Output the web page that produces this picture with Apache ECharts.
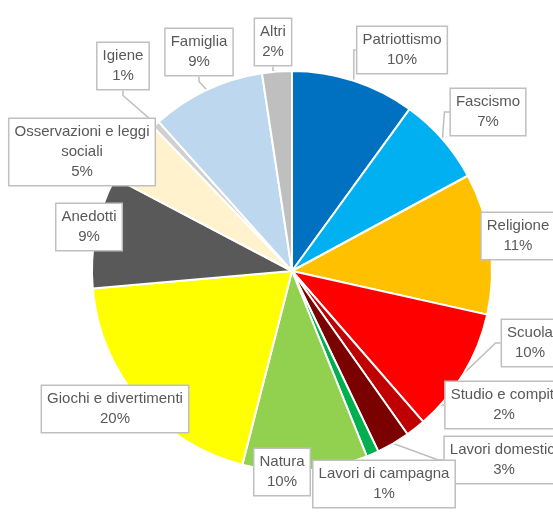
<!DOCTYPE html>
<html>
<head>
<meta charset="utf-8">
<script src="https://cdn.jsdelivr.net/npm/echarts@6/dist/echarts.min.js"></script>
<style>html,body{margin:0;padding:0;background:#fff;}#c{width:553px;height:512px;}</style>
</head>
<body>
<div id="c"></div>
<script>
// Data
const categories = ['Patriottismo','Fascismo','Religione','Scuola','Studio e compiti','Lavori domestici','Lavori di campagna','Natura','Giochi e divertimenti','Anedotti','Osservazioni e leggi sociali','Igiene','Famiglia','Altri'];
const values = [10.0, 7.1, 11.4, 10.1, 1.6, 2.7, 1.0, 10.1, 19.6, 9.1, 5.1, 0.6, 9.2, 2.4];
const labelLines = ['Patriottismo','Fascismo','Religione','Scuola','Studio e compiti','Lavori domestici','Lavori di campagna','Natura','Giochi e divertimenti','Anedotti','Osservazioni e leggi\nsociali','Igiene','Famiglia','Altri'];

// Styles / layout
const colors = ['#0070C0','#00B0F0','#FFC000','#FF0000','#C00000','#7B0000','#00B050','#92D050','#FFFF00','#595959','#FFF2CC','#D0D0D0','#BDD7EE','#BFBFBF'];
const labelPos = [[402,50],[488,112],[518,236],[530,343],[504,405],[504,460],[384,484],[282,472],[115,409],[89,227],[82,152],[123,66],[199,52],[273,42]];
const showPointer = [true,true,false,true,true,true,false,false,false,false,false,true,true,true];

const chart = echarts.init(document.getElementById('c'), null, {renderer:'canvas'});
const data = categories.map((n,i)=>({
  name:n, value:values[i],
  itemStyle:{color:colors[i]},
  labelLine:{show:showPointer[i]}
}));
chart.setOption({
  animation:false,
  series:[{
    type:'pie',
    center:[292,271],
    radius:[0,200],
    startAngle:90,
    clockwise:true,
    avoidLabelOverlap:false,
    itemStyle:{borderColor:'#fff',borderWidth:2},
    label:{
      show:true,
      position:'outside',
      formatter:function(p){return labelLines[p.dataIndex]+'\n'+Math.round(p.percent)+'%';},
      color:'#595959',
      fontFamily:'Liberation Sans',
      fontSize:15,
      lineHeight:20,
      align:'center',
      backgroundColor:'#fff',
      borderColor:'#BFBFBF',
      borderWidth:1.5,
      padding:[3,5,3,5]
    },
    labelLine:{show:true,length:5,length2:5,lineStyle:{color:'#BFBFBF',width:1.5}},
    labelLayout:function(p){
      const pos = labelPos[p.dataIndex];
      return {x:pos[0], y:pos[1], align:'center', verticalAlign:'middle'};
    },
    data:data
  }]
});
</script>
</body>
</html>
